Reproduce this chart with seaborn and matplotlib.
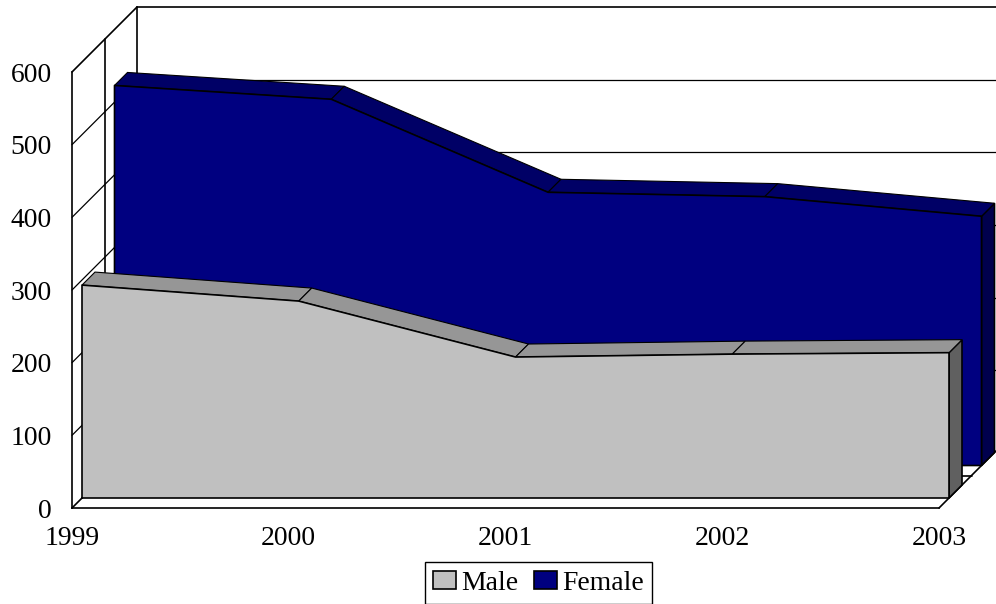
import numpy as np
import pandas as pd
import matplotlib
matplotlib.use("Agg")
import matplotlib.pyplot as plt
from matplotlib.patches import Patch
import seaborn as sns

years = ["1999", "2000", "2001", "2002", "2003"]
male = [293, 271, 194, 198, 200]
female = [523, 504, 376, 370, 343]
y_ticks = [0, 100, 200, 300, 400, 500, 600]

sns.set_theme(style="white")
plt.rcParams["font.family"] = ["Liberation Serif", "DejaVu Serif"]
FS = 19.9
LW = 1.2

fig = plt.figure(figsize=(9.96, 6.04), dpi=100)
ax = fig.add_axes([72 / 996, (604 - 508) / 604, 867 / 996, 436 / 604])
idx = np.arange(len(years), dtype=float)
ax.set_xlim(0, 4)
ax.set_ylim(0, 600)

# depth of the oblique view, in data units per pixel of depth
PX_X = 867 / 4
PX_Y = 436 / 600


def shift(x, y, depth):
    return np.asarray(x, float) + depth / PX_X, np.asarray(y, float) + depth / PX_Y


def line(x, y, depth=0.0, lw=LW, color="black", z=2):
    sx, sy = shift(x, y, depth)
    sns.lineplot(x=sx, y=sy, sort=False, estimator=None, color=color, lw=lw, ax=ax,
                 legend=False, clip_on=False, zorder=z)


# walls and floor
for v in y_ticks[1:]:
    sx0, sy0 = shift([0], [v], 0)
    sx1, sy1 = shift([0], [v], 65)
    lw = LW if v == 600 else 0.9
    line([sx0[0], sx1[0]], [sy0[0], sy1[0]], lw=lw, z=1)
    line([0, 4], [v, v], depth=65, lw=lw, z=1)
line([0, 0], [0, 600], depth=32.5, z=1)
line([0, 0], [0, 600], depth=65, z=1)
line([0, 4], [0, 0], depth=32.5, z=1)
sx1, sy1 = shift([0, 4], [0, 0], 65)
line([0, sx1[0]], [0, sy1[0]], z=1)
line([4, sx1[1]], [0, sy1[1]], z=1)


def area(values, front, back, face, top, side, z):
    v = np.asarray(values, float)
    fx, fy = shift(idx, v, front)
    bx, by = shift(idx, v, back)
    x0, y0 = shift(idx, np.zeros_like(v), front)
    x1, y1 = shift(idx, np.zeros_like(v), back)
    # side face at the last category
    ax.fill([fx[-1], bx[-1], x1[-1], x0[-1]], [fy[-1], by[-1], y1[-1], y0[-1]],
            facecolor=side, edgecolor="black", lw=LW, clip_on=False, zorder=z)
    # top strip, one piece per segment
    for i in range(len(v) - 1):
        ax.fill([fx[i], fx[i + 1], bx[i + 1], bx[i]], [fy[i], fy[i + 1], by[i + 1], by[i]],
                facecolor=top, edgecolor="black", lw=0.8, clip_on=False, zorder=z)
    # front face
    ax.fill_between(fx, fy, y0, facecolor=face, edgecolor="none", clip_on=False, zorder=z + 0.1)
    sns.lineplot(x=np.r_[x0[0], fx, x0[-1], x0[0]], y=np.r_[y0[0], fy, y0[-1], y0[0]],
                 sort=False, estimator=None, color="black", lw=LW, ax=ax, legend=False,
                 clip_on=False, zorder=z + 0.2)


area(female, 42.5, 55.5, "#000080", "#000066", "#00004D", 3)
area(male, 10, 23, "#C0C0C0", "#969696", "#606060", 4)

# axes
ax.set_facecolor("none")
for name, sp in ax.spines.items():
    sp.set_visible(name in ("left", "bottom"))
    sp.set_color("black")
    sp.set_linewidth(LW)
    sp.set_zorder(6)
ax.set_xticks(idx, years)
ax.set_yticks(y_ticks)
ax.tick_params(axis="x", length=0, pad=13.0, labelsize=FS, colors="black")
ax.tick_params(axis="y", length=0, pad=14.3, labelsize=FS, colors="black")
ax.set_xlabel("")
ax.set_ylabel("")

handles = [Patch(facecolor="#C0C0C0", edgecolor="black", lw=LW, label="Male"),
           Patch(facecolor="#000080", edgecolor="black", lw=LW, label="Female")]
fig.legend(handles=handles, loc="center", bbox_to_anchor=(538.5 / 996, (604 - 583) / 604),
           ncol=2, frameon=True, fancybox=False, framealpha=1, edgecolor="black",
           fontsize=FS, labelcolor="black", handlelength=0.83, handleheight=0.62,
           handletextpad=0.18, columnspacing=0.6, borderpad=0.3, borderaxespad=0)

fig.savefig("out.png", dpi=100, facecolor="white")
